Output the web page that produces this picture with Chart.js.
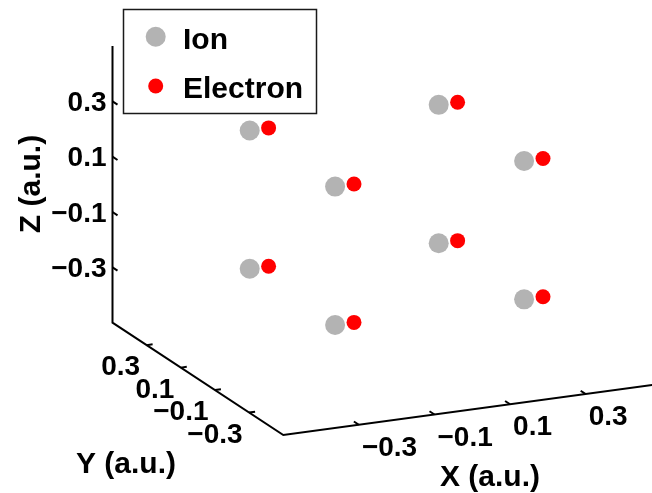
<!DOCTYPE html>
<html lang="en">
<head>
    <meta charset="UTF-8">
    <title>Ion / Electron positions</title>
    <style>
        html, body {
            margin: 0;
            padding: 0;
            background: #ffffff;
        }
        canvas {
            display: block;
        }
    </style>
    <script src="https://cdn.jsdelivr.net/npm/chart.js"></script>
</head>
<body>
    <canvas id="myChart" width="652" height="493"></canvas>
    <script>
        // Positions in atomic units
        const ionX = [-0.25, 0.25, -0.25, 0.25, -0.25, 0.25, -0.25, 0.25];
        const ionY = [0.25, 0.25, -0.25, -0.25, 0.25, 0.25, -0.25, -0.25];
        const ionZ = [0.25, 0.25, 0.25, 0.25, -0.25, -0.25, -0.25, -0.25];

        const electronX = [-0.2, 0.3, -0.2, 0.3, -0.2, 0.3, -0.2, 0.3];
        const electronY = [0.25, 0.25, -0.25, -0.25, 0.25, 0.25, -0.25, -0.25];
        const electronZ = [0.25, 0.25, 0.25, 0.25, -0.25, -0.25, -0.25, -0.25];

        // Axis limits and ticks
        const xLim = [-0.5, 0.5];
        const yLim = [-0.5, 0.5];
        const zLim = [-0.5, 0.5];
        const tickValues = [-0.3, -0.1, 0.1, 0.3];
        const tickLabels = ['\u22120.3', '\u22120.1', '0.1', '0.3'];

        // Orthographic view: screen position of the origin and of one unit along each axis
        const view = {
            ox: 386.9, oy: 214.9,
            ex: [378, -51.2],
            ey: [-170.8, -112.3],
            ez: [0, -276.7]
        };

        function project(x, y, z) {
            return {
                x: view.ox + x * view.ex[0] + y * view.ey[0] + z * view.ez[0],
                y: view.oy + x * view.ex[1] + y * view.ey[1] + z * view.ez[1]
            };
        }

        function unit(v) {
            const len = Math.hypot(v[0], v[1]);
            return [v[0] / len, v[1] / len];
        }

        const TICK_LEN = 6;
        const tickFont = 'bold 28px "Liberation Sans", Arial, sans-serif';
        const labelFont = 'bold 30px "Liberation Sans", Arial, sans-serif';

        // Axis lines: z axis, y axis, x axis
        const axisLine = [
            project(xLim[0], yLim[1], zLim[1]),
            project(xLim[0], yLim[1], zLim[0]),
            project(xLim[0], yLim[0], zLim[0]),
            project(xLim[1], yLim[0], zLim[0])
        ];

        function tickSegment(base, dir) {
            const u = unit(dir);
            return [base, { x: base.x + u[0] * TICK_LEN, y: base.y + u[1] * TICK_LEN }];
        }

        const tickSets = [];
        tickValues.forEach(t => {
            tickSets.push(tickSegment(project(t, yLim[0], zLim[0]), view.ey));
            tickSets.push(tickSegment(project(xLim[0], t, zLim[0]), view.ex));
            tickSets.push(tickSegment(project(xLim[0], yLim[1], t), [-view.ey[0], -view.ey[1]]));
        });

        const lineStyle = {
            showLine: true,
            borderColor: '#000000',
            borderWidth: 2,
            pointRadius: 0,
            pointHoverRadius: 0,
            borderCapStyle: 'butt',
            borderJoinStyle: 'miter',
            order: 3
        };

        const datasets = [
            Object.assign({ label: 'axes', data: axisLine }, lineStyle),
            ...tickSets.map(seg => Object.assign({ label: 'tick', data: seg }, lineStyle)),
            {
                label: 'Ion',
                data: ionX.map((x, i) => project(x, ionY[i], ionZ[i])),
                backgroundColor: '#b3b3b3',
                borderWidth: 0,
                pointRadius: 10,
                pointHoverRadius: 10,
                order: 2
            },
            {
                label: 'Electron',
                data: electronX.map((x, i) => project(x, electronY[i], electronZ[i])),
                backgroundColor: '#ff0000',
                borderWidth: 0,
                pointRadius: 7.5,
                pointHoverRadius: 7.5,
                order: 1
            }
        ];

        // Tick labels, axis titles and legend box
        const annotations = {
            id: 'annotations',
            afterDatasetsDraw(chart) {
                const ctx = chart.ctx;
                const sx = chart.scales.x, sy = chart.scales.y;
                const px = p => ({ x: sx.getPixelForValue(p.x), y: sy.getPixelForValue(p.y) });

                ctx.save();
                ctx.fillStyle = '#000000';
                ctx.font = tickFont;
                ctx.textBaseline = 'alphabetic';

                tickValues.forEach((t, i) => {
                    const bx = px(project(t, yLim[0], zLim[0]));
                    ctx.textAlign = 'left';
                    ctx.fillText(tickLabels[i], bx.x + 3, bx.y + 31);

                    const by = px(project(xLim[0], t, zLim[0]));
                    ctx.textAlign = 'right';
                    ctx.fillText(tickLabels[i], by.x - 6.5, by.y + 30);

                    const bz = px(project(xLim[0], yLim[1], t));
                    ctx.textAlign = 'right';
                    ctx.fillText(tickLabels[i], bz.x - 6, bz.y + 9.5);
                });

                ctx.font = labelFont;
                ctx.textAlign = 'center';
                ctx.fillText('X (a.u.)', 490, 486);
                ctx.fillText('Y (a.u.)', 126, 473);
                ctx.save();
                ctx.translate(40, 184);
                ctx.rotate(-Math.PI / 2);
                ctx.fillText('Z (a.u.)', 0, 0);
                ctx.restore();

                // Legend
                ctx.fillStyle = '#ffffff';
                ctx.fillRect(123.5, 9.5, 193, 104);
                ctx.strokeStyle = '#1a1a1a';
                ctx.lineWidth = 1.5;
                ctx.strokeRect(123.5, 9.5, 193, 104);

                const entries = chart.data.datasets.filter(d => d.label === 'Ion' || d.label === 'Electron');
                const rows = [36.7, 86];
                entries.forEach((d, i) => {
                    ctx.fillStyle = d.backgroundColor;
                    ctx.beginPath();
                    ctx.arc(155.7, rows[i], d.pointRadius, 0, Math.PI * 2);
                    ctx.fill();
                    ctx.fillStyle = '#000000';
                    ctx.textAlign = 'left';
                    ctx.fillText(d.label, 183, rows[i] + 12);
                });
                ctx.restore();
            }
        };

        new Chart(document.getElementById('myChart'), {
            type: 'scatter',
            data: { datasets: datasets },
            options: {
                responsive: false,
                animation: false,
                devicePixelRatio: 1,
                layout: { padding: 0, autoPadding: false },
                plugins: {
                    legend: { display: false },
                    tooltip: { enabled: false }
                },
                scales: {
                    x: { type: 'linear', min: 0, max: 652, display: false },
                    y: { type: 'linear', min: 0, max: 493, reverse: true, display: false }
                }
            },
            plugins: [annotations]
        });
    </script>
</body>
</html>
